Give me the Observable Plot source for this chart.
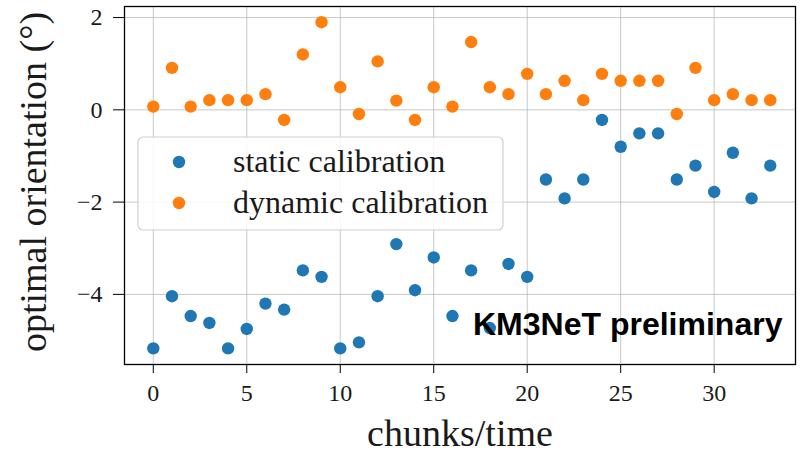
<!DOCTYPE html>
<html>
<head>
<meta charset="utf-8">
<script src="https://cdn.jsdelivr.net/npm/d3@7"></script>
<script src="https://cdn.jsdelivr.net/npm/@observablehq/plot@0.6"></script>
<style>
  html, body { margin: 0; padding: 0; background: #fff; }
  #chart { position: relative; width: 800px; height: 456px; }
</style>
</head>
<body>
<div id="chart"></div>
<script>
const chunks = d3.range(0, 34);
const staticCalib = [
  -5.17, -4.04, -4.47, -4.62, -5.17, -4.75, -4.20, -4.33, -3.48, -3.62,
  -5.17, -5.04, -4.04, -2.91, -3.91, -3.20, -4.47, -3.48, -4.73, -3.34,
  -3.62, -1.51, -1.92, -1.51, -0.22, -0.80, -0.51, -0.51, -1.51, -1.21,
  -1.78, -0.93, -1.92, -1.21
];
const dynamicCalib = [
  0.07, 0.91, 0.07, 0.21, 0.21, 0.21, 0.34, -0.22, 1.20, 1.90,
  0.49, -0.09, 1.05, 0.20, -0.22, 0.49, 0.07, 1.47, 0.49, 0.34,
  0.78, 0.34, 0.63, 0.21, 0.78, 0.63, 0.63, 0.63, -0.09, 0.91,
  0.21, 0.34, 0.21, 0.21
];
const xTicks = [0, 5, 10, 15, 20, 25, 30];
const yTicks = [-4, -2, 0, 2];
const seriesNames = ["static calibration", "dynamic calibration"];
const seriesColors = ["#1f77b4", "#ff7f0e"];
const xLabel = "chunks/time";
const yLabel = "optimal orientation (°)";
const annotation = "KM3NeT preliminary";

const rows = [
  ...chunks.map((c, i) => ({x: c, y: staticCalib[i], s: seriesNames[0]})),
  ...chunks.map((c, i) => ({x: c, y: dynamicCalib[i], s: seriesNames[1]}))
];

const serif = "'Liberation Serif', 'Times New Roman', serif";
const ink = "#1a1a1a";

const plot = Plot.plot({
  width: 800,
  height: 456,
  marginLeft: 124,
  marginRight: 5,
  marginTop: 6,
  marginBottom: 92,
  style: {fontFamily: serif, fontSize: "24px", color: ink, background: "#fff"},
  x: {domain: [-1.54, 34.35]},
  y: {domain: [-5.52, 2.24]},
  color: {domain: seriesNames, range: seriesColors},
  marks: [
    Plot.gridX(xTicks, {stroke: "#b0b0b0", strokeOpacity: 0.7, strokeWidth: 1}),
    Plot.gridY(yTicks, {stroke: "#b0b0b0", strokeOpacity: 0.7, strokeWidth: 1}),
    Plot.axisX(xTicks, {tickSize: 9, tickPadding: 10, label: null, fontSize: 24, fontFamily: serif, stroke: "#000"}),
    Plot.axisY(yTicks, {tickSize: 11, tickPadding: 11, label: null, fontSize: 24, fontFamily: serif, stroke: "#000"}),
    Plot.dot(rows, {x: "x", y: "y", fill: "s", r: 6.2, stroke: "none"}),
    Plot.frame({stroke: "#000", strokeWidth: 1.3})
  ]
});

const container = document.getElementById("chart");
container.appendChild(plot);

const svg = d3.select(plot);

// legend
const lg = svg.append("g").attr("class", "legend").attr("text-anchor", "start");
lg.append("rect")
  .attr("x", 138).attr("y", 137).attr("width", 365).attr("height", 93)
  .attr("rx", 5).attr("ry", 5)
  .attr("fill", "#fff").attr("fill-opacity", 0.85)
  .attr("stroke", "#d0d0d0").attr("stroke-width", 1.2);
const legendY = [162, 203];
seriesNames.forEach((name, i) => {
  lg.append("circle").attr("cx", 179).attr("cy", legendY[i]).attr("r", 6.2).attr("fill", seriesColors[i]);
  lg.append("text").attr("x", 233).attr("y", legendY[i] + 10)
    .attr("text-anchor", "start")
    .attr("font-family", serif).attr("font-size", 32).attr("fill", ink)
    .text(name);
});

// axis labels
svg.append("text")
  .attr("x", 460).attr("y", 446)
  .attr("text-anchor", "middle")
  .attr("font-family", serif).attr("font-size", 38).attr("fill", ink)
  .text(xLabel);
svg.append("text")
  .attr("transform", "translate(46,182) rotate(-90)")
  .attr("text-anchor", "middle")
  .attr("font-family", serif).attr("font-size", 38).attr("fill", ink)
  .text(yLabel);

// annotation
svg.append("text")
  .attr("x", 473).attr("y", 335)
  .attr("text-anchor", "start")
  .attr("font-family", "'Liberation Sans', Arial, sans-serif")
  .attr("font-weight", "bold").attr("font-size", 32).attr("fill", "#000")
  .text(annotation);
</script>
</body>
</html>
